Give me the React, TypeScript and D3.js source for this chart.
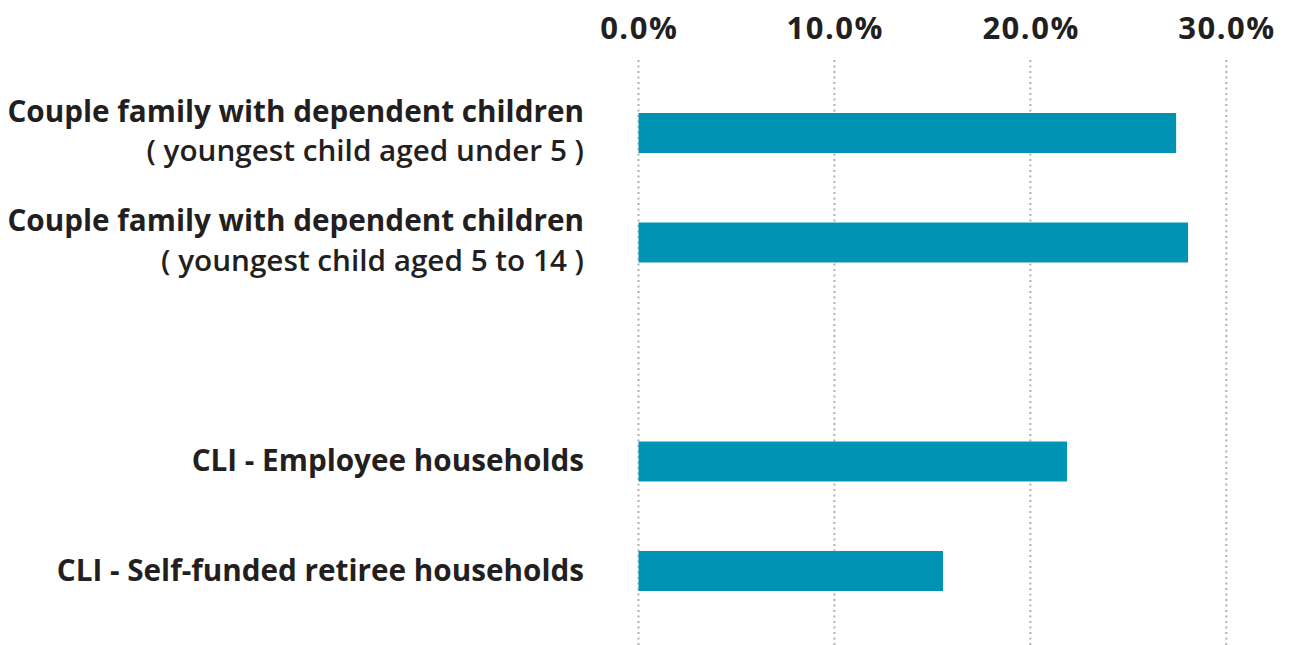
import React from "react";
import * as d3 from "d3";

const categoryKeys = ["under5", "5to14", "blank", "employee", "retiree"];
const categoryLines: string[][] = [
  ["Couple family with dependent children", "( youngest child aged under 5 )"],
  ["Couple family with dependent children", "( youngest child aged 5 to 14 )"],
  [],
  ["CLI - Employee households"],
  ["CLI - Self-funded retiree households"],
];
const values: (number | null)[] = [27.44, 28.05, null, 21.87, 15.54];
const tickValues = [0, 10, 20, 30];

const W = 1290;
const H = 645;
const FONT = "'Open Sans', sans-serif";
const TEXT = "#231f20";
const BAR = "#0093b3";

export default function App() {
  const x = d3.scaleLinear().domain([0, 30]).range([638.5, 1226.3]);
  const y = d3
    .scaleBand<string>()
    .domain(categoryKeys)
    .range([78.25, 625.75])
    .paddingInner(0.635)
    .paddingOuter(0.3175);
  const bw = y.bandwidth();

  return (
    <svg
      width={W}
      height={H}
      style={{ position: "absolute", left: 0, top: 0, background: "#fff" }}
    >
      {tickValues.map((t) => (
        <g key={t}>
          <line
            x1={x(t)}
            x2={x(t)}
            y1={60}
            y2={H}
            stroke="#b0b0b0"
            strokeWidth={2}
            strokeDasharray="2,3.5"
          />
          <text
            x={x(t) + 0.75}
            y={39}
            textAnchor="middle"
            fontFamily={FONT}
            fontWeight={700}
            fontSize={31}
            letterSpacing={1.5}
            fill={TEXT}
          >
            {d3.format(".1f")(t) + "%"}
          </text>
        </g>
      ))}
      {categoryKeys.map((k, i) => {
        const v = values[i];
        const yc = (y(k) as number) + bw / 2;
        const lines = categoryLines[i];
        return (
          <g key={k}>
            {v !== null && (
              <rect
                x={x(0)}
                y={y(k) as number}
                width={x(v) - x(0)}
                height={bw}
                fill={BAR}
              />
            )}
            {lines.length === 2 &&
              lines.map((ln, j) => (
                <text
                  key={j}
                  x={584}
                  y={yc + (j === 0 ? -11.5 : 28)}
                  textAnchor="end"
                  fontFamily={FONT}
                  fontWeight={j === 0 ? 700 : 600}
                  fontSize={29.7}
                  fill={TEXT}
                >
                  {ln}
                </text>
              ))}
            {lines.length === 1 && (
              <text
                x={584}
                y={yc + 9.5}
                textAnchor="end"
                fontFamily={FONT}
                fontWeight={700}
                fontSize={29.7}
                fill={TEXT}
              >
                {lines[0]}
              </text>
            )}
          </g>
        );
      })}
    </svg>
  );
}
